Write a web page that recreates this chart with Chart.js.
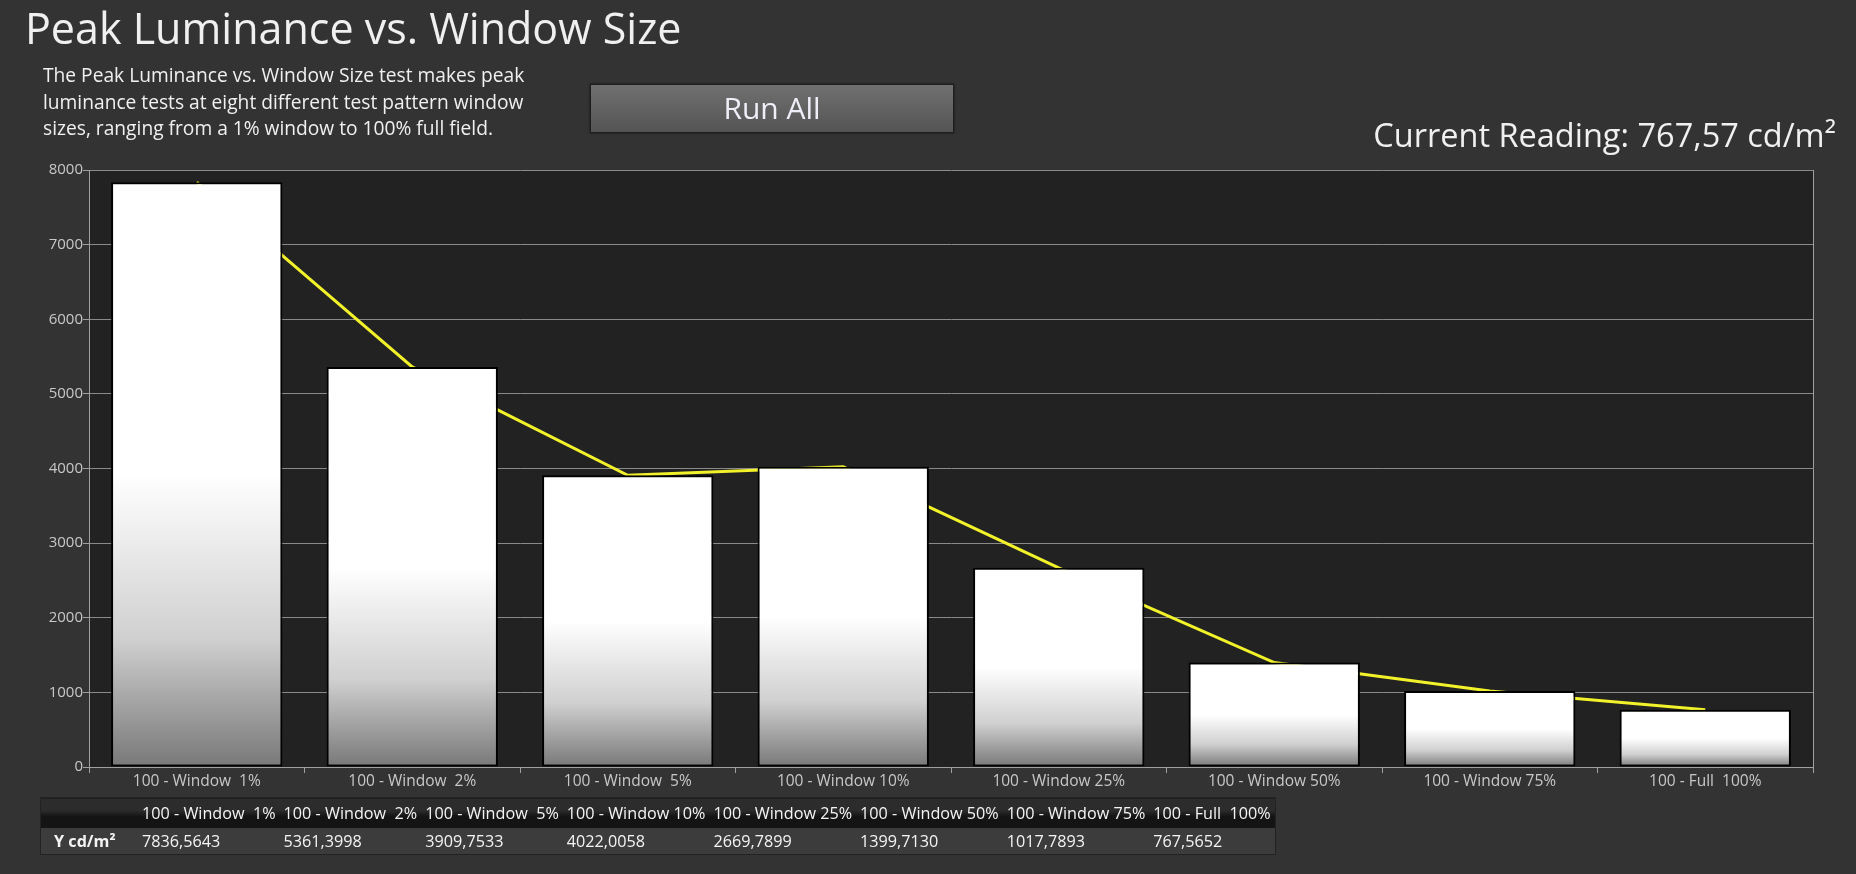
<!DOCTYPE html>
<html>
<head>
<meta charset="utf-8">
<script src="https://cdn.jsdelivr.net/npm/chart.js@4.4.4/dist/chart.umd.min.js"></script>
<style>
  html, body { margin: 0; padding: 0; background: #333333; width: 1856px; height: 874px; overflow: hidden; }
  body { font-family: "Open Sans", "Noto Sans", sans-serif; color: #f0f0f0; position: relative; }
  #chartBox { position: absolute; left: 0; top: 0; width: 1856px; height: 874px; }
  .title { position: absolute; left: 25px; top: 6px; font-size: 43px; line-height: 44px; white-space: nowrap; }
  .desc { position: absolute; left: 43px; top: 62px; font-size: 19.2px; line-height: 26.5px; white-space: nowrap; }
  .btn { position: absolute; left: 590px; top: 84px; width: 362px; height: 47px; border: 1px solid #1e1e1e;
         background: linear-gradient(#707070, #545454); box-shadow: 0 0 2px #111;
         font-size: 30px; line-height: 46px; text-align: center; color: #eeeef8; }
  .reading { position: absolute; right: 20px; top: 118px; font-size: 32.5px; line-height: 33px; white-space: nowrap; }
  #table { position: absolute; left: 40px; top: 797px; border-collapse: collapse; font-size: 16.2px; color: #f4f4f4;
           border: 1px solid #222; }
  #table td { white-space: pre; padding: 0 4px; }
  #table tr.head td { height: 30px; background: linear-gradient(#2c2c2c 0%, #2c2c2c 40%, #141414 60%, #141414 100%); }
  #table tr.vals td { height: 26px; background: #3c3c3c; }
  #table td.lab { font-weight: bold; text-align: left; padding-left: 13px; padding-right: 4px; width: 80px; }
</style>
</head>
<body>
<div id="chartBox"><canvas id="chart"></canvas></div>
<div class="title">Peak Luminance vs. Window Size</div>
<div class="desc">The Peak Luminance vs. Window Size test makes peak<br>luminance tests at eight different test pattern window<br>sizes, ranging from a 1% window to 100% full field.</div>
<div class="btn">Run All</div>
<div class="reading">Current Reading: 767,57 cd/m²</div>
<table id="table"></table>
<script>
const windowLabels = [
  "100 - Window  1%", "100 - Window  2%", "100 - Window  5%", "100 - Window 10%",
  "100 - Window 25%", "100 - Window 50%", "100 - Window 75%", "100 - Full  100%"
]
const luminance = [7836.5643, 5361.3998, 3909.7533, 4022.0058, 2669.7899, 1399.7130, 1017.7893, 767.5652]
const yTicks = [0, 1000, 2000, 3000, 4000, 5000, 6000, 7000, 8000]
const rowLabel = "Y cd/m²"

// data table below the chart
const table = document.getElementById("table")
const head = table.insertRow()
head.className = "head"
head.insertCell().className = "lab"
windowLabels.forEach(l => { head.insertCell().textContent = l })
const vals = table.insertRow()
vals.className = "vals"
const lc = vals.insertCell()
lc.className = "lab"
lc.textContent = rowLabel
luminance.forEach(v => { vals.insertCell().textContent = v.toFixed(4).replace(".", ",") })

// dark plot area + right border
const plotBg = {
  id: "plotBg",
  beforeDraw(chart) {
    const { ctx, chartArea: a } = chart
    ctx.save()
    ctx.fillStyle = "#222222"
    ctx.fillRect(a.left, a.top, a.right - a.left, a.bottom - a.top)
    ctx.strokeStyle = "#a0a0a0"
    ctx.lineWidth = 1
    ctx.beginPath()
    ctx.moveTo(a.right + 0.5, a.top)
    ctx.lineTo(a.right + 0.5, a.bottom)
    ctx.stroke()
    ctx.restore()
  }
}

function barFill(c) {
  const chart = c.chart
  if (!chart.chartArea || c.raw === undefined) return "#ffffff"
  const y = chart.scales.y
  const top = y.getPixelForValue(c.raw)
  const bot = y.getPixelForValue(0)
  const g = chart.ctx.createLinearGradient(0, top, 0, bot)
  g.addColorStop(0, "#ffffff")
  g.addColorStop(0.5, "#ffffff")
  g.addColorStop(0.78, "#d0d0d0")
  g.addColorStop(1, "#787878")
  return g
}

const ctx = document.getElementById("chart").getContext("2d")
new Chart(ctx, {
  data: {
    labels: windowLabels,
    datasets: [
      {
        type: "bar",
        data: luminance,
        backgroundColor: barFill,
        borderColor: "#000000",
        borderWidth: 2,
        borderSkipped: false,
        categoryPercentage: 1,
        barPercentage: 0.795,
        order: 1
      },
      {
        type: "line",
        data: luminance,
        borderColor: "#f2f22a",
        borderWidth: 3,
        pointRadius: 0,
        tension: 0,
        order: 2
      }
    ]
  },
  options: {
    responsive: true,
    maintainAspectRatio: false,
    animation: false,
    events: [],
    layout: { padding: { left: 29, top: 170, right: 43, bottom: 77 } },
    plugins: { legend: { display: false }, tooltip: { enabled: false } },
    scales: {
      x: {
        afterFit: (s) => { s.height = 30 },
        grid: { display: true, drawOnChartArea: false, offset: true, tickLength: 6, color: "#a0a0a0" },
        border: { color: "#a0a0a0" },
        ticks: { color: "#c8c8c8", font: { family: "Open Sans", size: 15.5 }, padding: -1, maxRotation: 0 }
      },
      y: {
        min: 0,
        max: 8000,
        afterFit: (s) => { s.width = 60 },
        afterBuildTicks: (s) => { s.ticks = yTicks.map(v => ({ value: v })) },
        grid: { color: "#8a8a8a", tickLength: 6, tickColor: "#a0a0a0" },
        border: { color: "#a0a0a0" },
        ticks: { color: "#c8c8c8", font: { family: "Open Sans", size: 15 }, padding: 0, callback: (v) => String(v) }
      }
    }
  },
  plugins: [plotBg]
})
</script>
</body>
</html>
